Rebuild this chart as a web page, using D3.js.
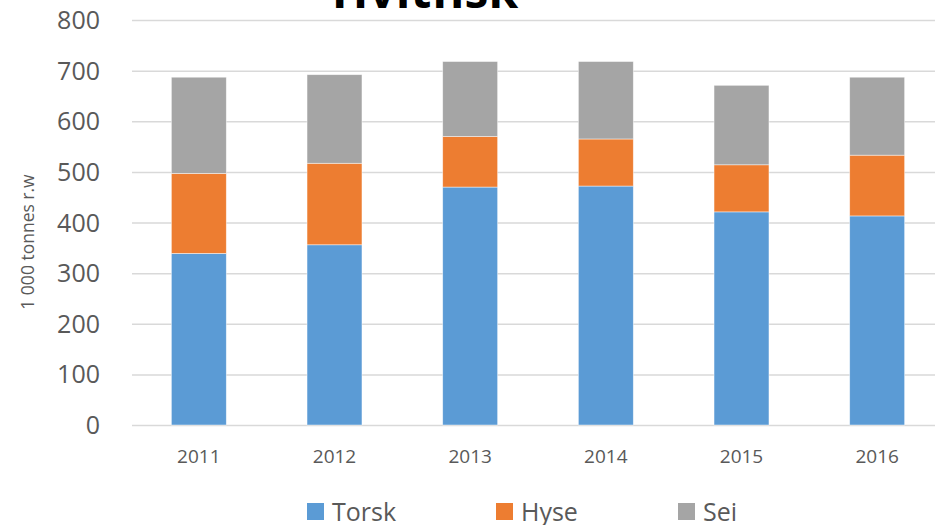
<!DOCTYPE html>
<html><head><meta charset="utf-8">
<script src="https://cdn.jsdelivr.net/npm/d3@7"></script>
<style>body{margin:0;background:#fff}svg{display:block}text{font-family:"Open Sans",sans-serif}</style>
</head><body><svg id="c" width="935" height="525"></svg>
<script>
const years = ["2011","2012","2013","2014","2015","2016"];
const seriesNames = ["Torsk","Hyse","Sei"];
const torsk = [339, 356, 470, 472, 421, 413];
const hyse = [158, 161, 100, 93, 93, 120];
const sei = [190, 175, 148, 153, 157, 154];
const yTicks = [0,100,200,300,400,500,600,700,800];
const colors = ["#5B9BD5","#ED7D31","#A5A5A5"];

const svg = d3.select("#c");
const x = d3.scaleBand().domain(years).range([131, 945]).paddingInner(0.595).paddingOuter(0.2975);
const y = d3.scaleLinear().domain([0, 800]).range([425, 20]);

// gridlines
const gy = svg.append("g").attr("transform","translate(132,0)")
  .call(d3.axisLeft(y).tickValues(yTicks).tickSize(-803).tickFormat(""));
gy.select(".domain").remove();
gy.selectAll("line").attr("stroke","#D9D9D9").attr("stroke-width",1.5);

// y labels
svg.append("g").selectAll("text").data(yTicks).join("text")
  .attr("x",100).attr("y",d=>y(d)).attr("dy","0.36em").attr("text-anchor","end")
  .attr("font-size",25).attr("fill","#595959").text(d=>d);

// bars
const rows = years.map((yr,i)=>({year:yr, Torsk:torsk[i], Hyse:hyse[i], Sei:sei[i]}));
const stack = d3.stack().keys(seriesNames)(rows);
svg.append("g").selectAll("g").data(stack).join("g").attr("fill",(d,i)=>colors[i])
  .selectAll("rect").data(d=>d).join("rect")
  .attr("x",d=>x(d.data.year)).attr("width",x.bandwidth())
  .attr("y",d=>y(d[1])).attr("height",d=>y(d[0])-y(d[1]))
  .attr("stroke","#ffffff").attr("stroke-opacity",0.6).attr("stroke-width",0.75);

// x labels
const gx = svg.append("g").attr("transform","translate(0,425)")
  .call(d3.axisBottom(x).tickSize(0).tickPadding(0));
gx.select(".domain").remove();
gx.selectAll("text").attr("y",38).attr("dy",0).attr("font-size",19).attr("fill","#595959")
  .attr("font-family","'Open Sans',sans-serif");

// y title
svg.append("text").attr("transform","translate(34,242) rotate(-90)").attr("text-anchor","middle")
  .attr("font-size",17.5).attr("fill","#595959").text("1 000 tonnes r.w");

// title
svg.append("text").attr("x",425).attr("y",8).attr("text-anchor","middle")
  .attr("font-size",48).attr("font-weight","bold").attr("fill","#000").text("Hvitfisk");

// legend
const legX = [307, 496, 678];
const leg = svg.append("g").selectAll("g").data(seriesNames).join("g")
  .attr("transform",(d,i)=>`translate(${legX[i]},503)`);
leg.append("rect").attr("width",17).attr("height",17).attr("fill",(d,i)=>colors[i]);
leg.append("text").attr("x",25).attr("y",18).attr("font-size",25).attr("fill","#595959").text(d=>d);
</script></body></html>
